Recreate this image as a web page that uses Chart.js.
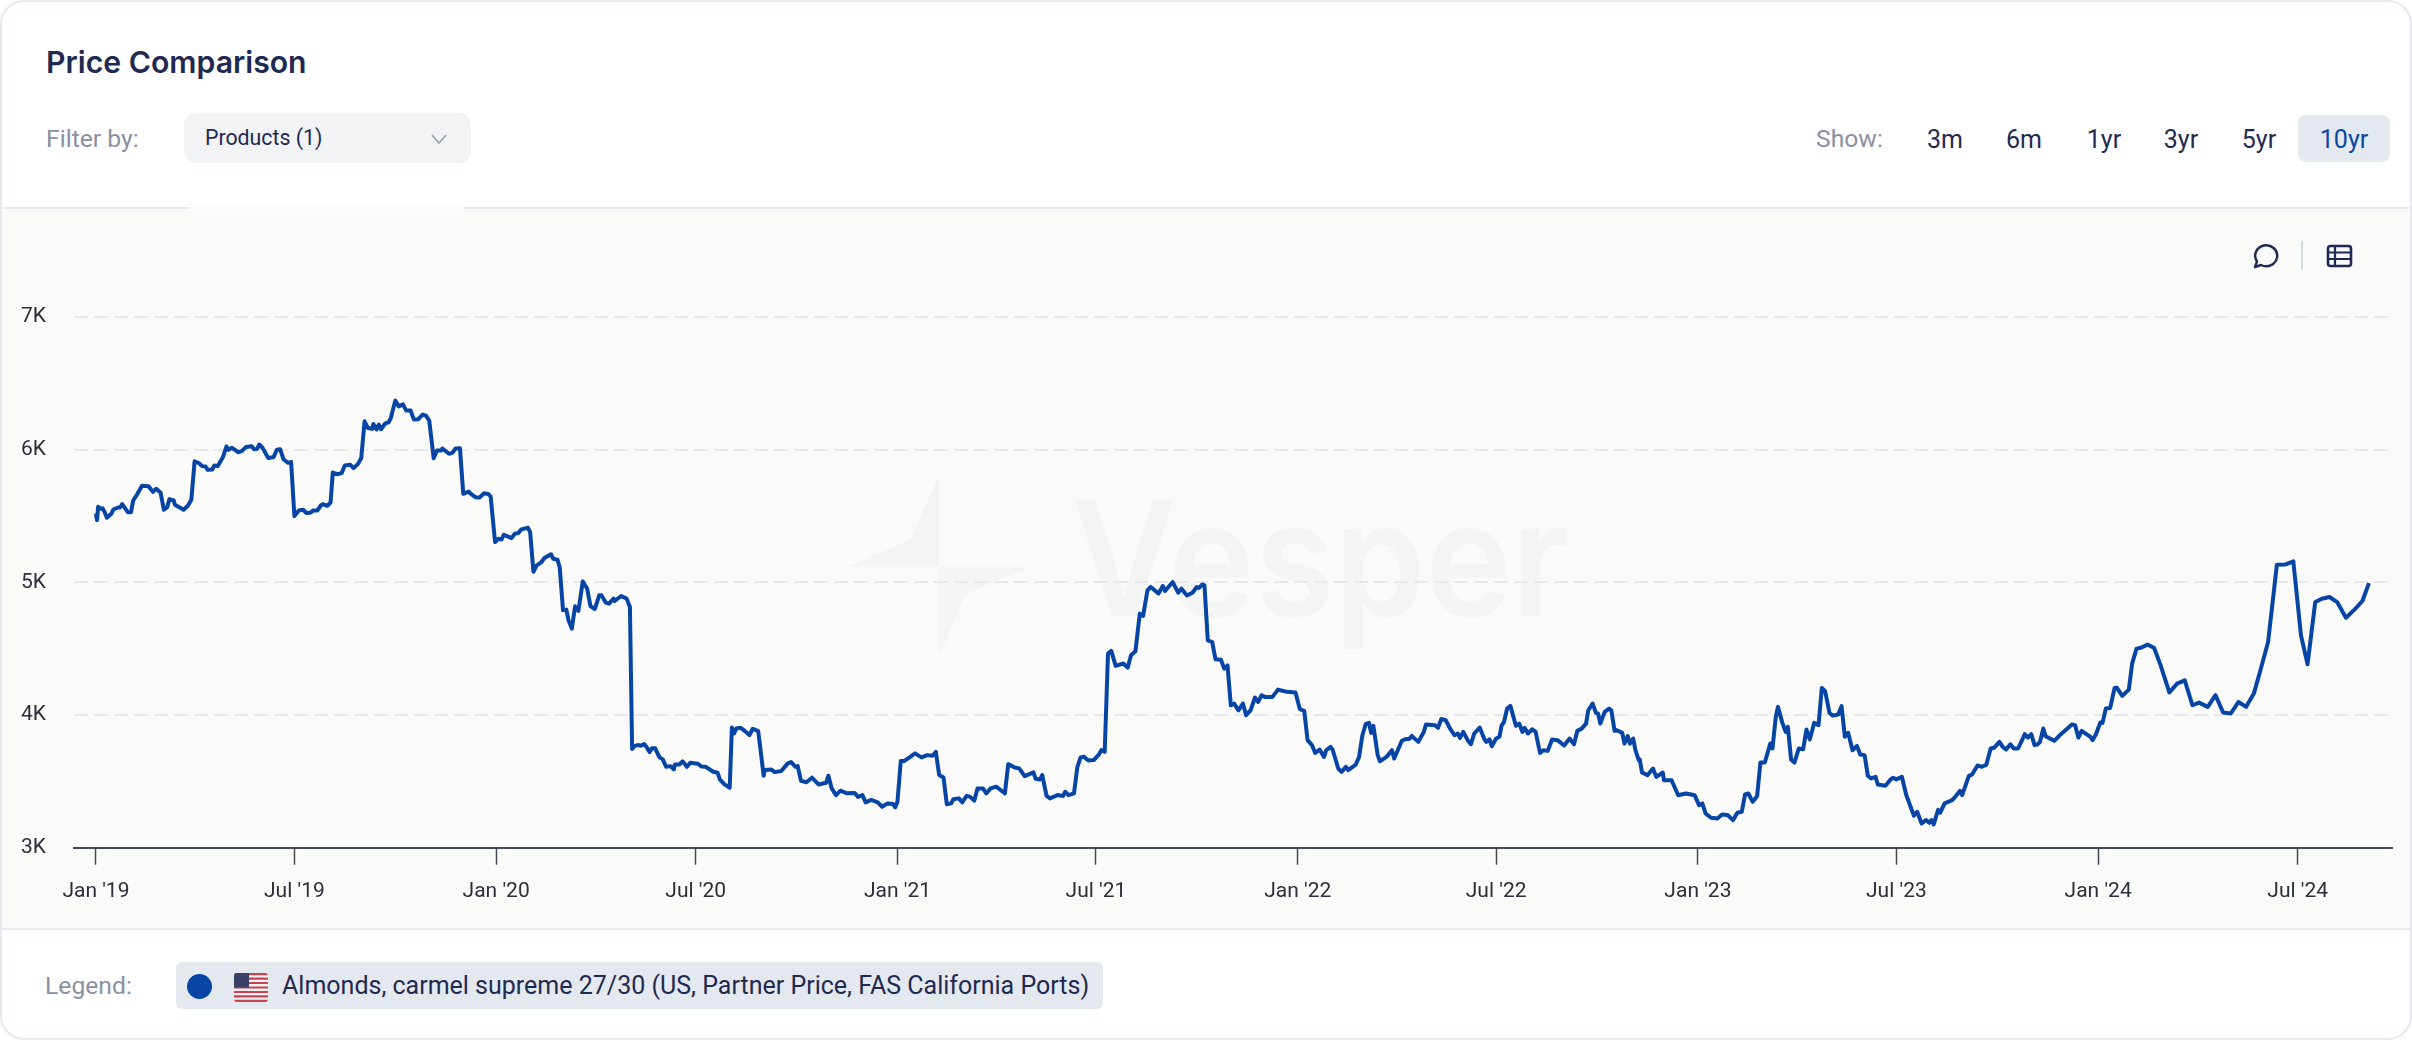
<!DOCTYPE html>
<html>
<head>
<meta charset="utf-8">
<title>Price Comparison</title>
<script src="https://cdn.jsdelivr.net/npm/chart.js@4"></script>
<style>
    html, body { margin: 0; padding: 0; background: #fff; }
    body { width: 2412px; height: 1040px; position: relative; overflow: hidden; font-family: Roboto, sans-serif; }
    .abs { position: absolute; white-space: nowrap; line-height: 1; }
    .card { position: absolute; left: 0; top: 0; width: 2408px; height: 1036px; border: 2px solid #e6e9ee; border-radius: 24px; overflow: hidden; }
    .panel { position: absolute; left: 0; top: 205px; width: 2408px; height: 719px; background: #fafaf8; border-top: 2px solid #e6e9ee; border-bottom: 2px solid #e6e9ee; }
    .title { left: 46px; top: 44px; font: 600 30.2px Inter, sans-serif; color: #1f2a52; }
    .muted { color: #8a90a3; font-size: 24.7px; }
    .select { position: absolute; left: 184px; top: 113px; width: 287px; height: 50px; border-radius: 12px; background: #f1f3f4; }
    .range { color: #1f2a52; font-size: 25px; transform: translateX(-50%); }
    .active-pill { position: absolute; left: 2298px; top: 115px; width: 92px; height: 47px; border-radius: 8px; background: #e4e9f0; }
    .legend-pill { position: absolute; left: 176px; top: 962px; width: 927px; height: 47px; border-radius: 6px; background: #e4e8ef; }
    .dot { position: absolute; left: 187px; top: 974px; width: 25px; height: 25px; border-radius: 50%; background: #0645a6; }
    .wm { position: absolute; left: 1071px; top: 478px; font: 600 160px/1 Inter, sans-serif; color: #f3f5f5; white-space: nowrap; transform: scaleX(0.91); transform-origin: left top; }
    canvas { position: absolute; left: 0; top: 0; }
</style>
</head>
<body>
<div class="card"><div class="panel"></div></div>
<div class="abs" style="left:190px;top:206px;width:274px;height:3px;background:#fcfcfb"></div>

<div class="abs title">Price Comparison</div>
<div class="abs muted" style="left:46px;top:127px">Filter by:</div>
<div class="select"></div>
<div class="abs" style="left:205px;top:127px;font-size:21.3px;color:#1f2a52">Products (1)</div>
<svg class="abs" style="left:431px;top:133px" width="16" height="12" viewBox="0 0 16 12"><path d="M1 2 L8 10 L15 2" fill="none" stroke="#9aa0ad" stroke-width="1.6"/></svg>

<div class="abs muted" style="left:1816px;top:127px">Show:</div>
<div class="active-pill"></div>
<div class="abs range" style="left:1945px;top:127px">3m</div>
<div class="abs range" style="left:2024px;top:127px">6m</div>
<div class="abs range" style="left:2104px;top:127px">1yr</div>
<div class="abs range" style="left:2181px;top:127px">3yr</div>
<div class="abs range" style="left:2259px;top:127px">5yr</div>
<div class="abs range" style="left:2344px;top:127px;color:#0b46a6">10yr</div>

<svg class="abs" style="left:2250px;top:240px" width="110" height="32" viewBox="0 0 110 32">
    <path d="M5 27 L7 21.5 A11 10.5 0 1 1 11 25 Z" fill="none" stroke="#1f2a52" stroke-width="2.4" stroke-linejoin="round"/>
    <line x1="52" y1="1" x2="52" y2="30" stroke="#d5dae3" stroke-width="2"/>
    <rect x="78" y="6" width="23" height="20" rx="2.5" fill="none" stroke="#1f2a52" stroke-width="2.6"/>
    <path d="M78 12.5 H101 M78 19 H101 M85 6 V26" stroke="#1f2a52" stroke-width="2.2"/>
</svg>

<svg class="abs" style="left:848px;top:476px" width="182" height="181" viewBox="0 0 182 181">
    <path d="M90.6 0 L63 63 L0 90.7 L90.6 90.7 Z M90.6 90.7 L182 90.7 L118 118 L90.6 181 Z" fill="#f3f5f5"/>
</svg>
<div class="wm">Vesper</div>

<div class="abs muted" style="left:45px;top:974px">Legend:</div>
<div class="legend-pill"></div>
<div class="dot"></div>
<svg class="abs" style="left:234px;top:973px" width="34" height="29" viewBox="0 0 34 29">
    <defs><clipPath id="flagClip"><rect width="34" height="29" rx="3"/></clipPath></defs>
    <g clip-path="url(#flagClip)">
        <rect width="34" height="29" fill="#f4f4f6"/>
        <path d="M0 1.1 H34 M0 5.6 H34 M0 10 H34 M0 14.5 H34 M0 19 H34 M0 23.4 H34 M0 27.9 H34" stroke="#c8434f" stroke-width="2.2"/>
        <rect width="15" height="14.5" fill="#3c3f66"/>
    </g>
</svg>
<div class="abs" style="left:282px;top:973px;font-size:25px;color:#1f2a52">Almonds, carmel supreme 27/30 (US, Partner Price, FAS California Ports)</div>

<canvas id="priceChart" width="2412" height="1040"></canvas>

<script>
// days counted from 1 Jan 2019
const priceDays = [
    0,1,2,4,6,8,10,14,16,20,22,24,27,29,32,34,37,42,48,52,55,59,62,65,67,71,72,80,84,87,
    90,94,97,100,102,106,108,111,115,116,119,121,124,130,133,137,142,144,147,149,152,157,162,165,168,171,175,178,181,185,
    189,192,196,198,202,205,207,211,214,216,220,224,227,232,235,239,242,245,248,252,253,256,258,260,264,267,269,273,276,280,
    283,287,290,294,298,301,304,308,311,315,316,322,325,328,332,335,340,341,346,350,354,358,360,364,367,370,372,379,382,385,
    388,394,396,399,402,406,409,415,417,421,423,426,429,431,434,437,440,444,448,451,455,459,461,465,468,472,473,479,484,487,
    489,491,494,497,500,502,505,507,510,514,517,520,524,527,528,532,535,539,542,549,552,556,563,567,569,573,578,580,582,584,
    588,592,596,599,604,609,610,616,619,625,631,634,638,640,643,648,653,659,666,668,671,675,679,685,692,695,699,702,707,713,
    717,722,727,729,731,734,737,742,747,753,758,763,766,769,773,776,780,782,787,790,794,797,801,804,809,812,816,821,825,829,
    832,838,842,847,855,857,861,863,867,870,877,882,884,887,892,895,898,901,905,910,915,917,920,923,926,930,937,941,944,948,
    952,955,959,962,969,973,975,982,987,990,995,1000,1004,1006,1009,1011,1014,1018,1021,1026,1029,1032,1035,1038,1042,1046,1049,1053,1057,1060,
    1063,1066,1073,1078,1083,1086,1094,1098,1102,1105,1109,1112,1116,1120,1122,1126,1128,1133,1136,1140,1142,1149,1152,1155,1158,1161,1163,1165,1169,1171,
    1177,1182,1184,1191,1194,1198,1200,1206,1211,1213,1221,1224,1227,1231,1235,1239,1242,1244,1247,1251,1254,1257,1262,1266,1268,1271,1273,1277,1280,1282,
    1284,1287,1290,1295,1298,1301,1303,1306,1310,1313,1317,1320,1324,1328,1333,1339,1344,1348,1351,1355,1359,1361,1365,1368,1370,1372,1376,1380,1382,1385,
    1387,1392,1394,1397,1399,1402,1404,1407,1408,1410,1415,1420,1423,1429,1430,1437,1443,1450,1458,1462,1465,1468,1473,1479,1483,1488,1493,1497,1501,1504,
    1507,1511,1515,1518,1522,1527,1529,1532,1534,1538,1541,1543,1546,1549,1553,1557,1560,1563,1567,1571,1574,1577,1581,1584,1589,1592,1595,1598,1602,1606,
    1609,1613,1616,1619,1623,1625,1632,1637,1639,1642,1647,1651,1658,1661,1665,1669,1672,1674,1676,1680,1682,1686,1693,1697,1700,1702,1708,1711,1716,1720,
    1724,1728,1731,1736,1739,1742,1746,1749,1753,1758,1759,1762,1765,1768,1771,1773,1776,1778,1786,1792,1798,1802,1805,1808,1811,1819,1821,1824,1828,1830,
    1833,1837,1841,1843,1848,1854,1857,1861,1865,1871,1877,1883,1891,1898,1905,1912,1918,1926,1933,1940,1947,1954,1961,1968,1974,1981,1989,1997,2004,2011,
    2017,2024,2030,2037,2044,2052,2060,2067,2073
];
const priceValues = [
    5520,5470,5570,5555,5560,5530,5488,5518,5550,5565,5565,5590,5555,5530,5530,5618,5656,5729,5726,5683,5706,5676,5548,5568,5628,5618,5585,5548,5580,5623,
    5914,5899,5877,5874,5849,5852,5882,5877,5932,5949,6025,6000,6015,5982,5990,6022,6027,6005,6007,6040,6015,5939,5944,6000,6005,5929,5902,5909,5500,5543,
    5548,5523,5528,5543,5543,5580,5590,5578,5603,5829,5816,5824,5882,5887,5862,5894,5939,6215,6165,6158,6195,6153,6190,6155,6200,6208,6241,6371,6328,6343,
    6296,6296,6228,6231,6266,6258,6220,5937,5995,5995,6010,5970,5977,6010,6012,5668,5686,5673,5643,5641,5673,5666,5648,5304,5329,5324,5360,5334,5367,5372,
    5400,5412,5380,5081,5129,5151,5184,5212,5179,5171,5111,4790,4795,4714,4652,4820,4785,5008,4953,4822,4800,4903,4903,4848,4840,4878,4860,4898,4878,4815,
    3744,3766,3774,3769,3781,3761,3721,3749,3749,3681,3666,3610,3615,3590,3628,3628,3651,3610,3641,3633,3613,3610,3573,3565,3515,3480,3452,3907,3862,3899,
    3904,3879,3849,3897,3879,3543,3585,3590,3570,3578,3636,3646,3610,3615,3505,3493,3528,3477,3490,3543,3447,3397,3430,3410,3412,3382,3397,3342,3360,3342,
    3309,3334,3329,3304,3347,3653,3653,3681,3711,3681,3698,3693,3723,3548,3530,3327,3334,3365,3372,3342,3390,3385,3355,3447,3447,3410,3447,3460,3435,3410,
    3630,3605,3598,3540,3568,3520,3515,3548,3390,3372,3397,3390,3422,3397,3410,3605,3681,3686,3658,3661,3706,3736,3723,4464,4484,4371,4389,4358,4451,4481,
    4765,4748,4941,4966,4916,4973,4936,5003,4923,4953,4901,4923,4966,4958,4985,4978,4564,4551,4421,4418,4350,4375,4074,4087,4036,4087,3999,4036,4132,4099,
    4149,4137,4137,4192,4182,4175,4170,4044,4031,3811,3773,3715,3740,3685,3735,3760,3735,3597,3572,3610,3585,3627,3685,3848,3931,3941,3866,3919,3698,3652,
    3685,3735,3673,3806,3818,3821,3843,3798,3873,3929,3924,3904,3971,3961,3898,3848,3861,3828,3873,3811,3780,3861,3906,3823,3798,3816,3765,3823,3836,3924,
    3944,4049,4069,3919,3936,3873,3903,3861,3893,3873,3715,3735,3730,3816,3811,3770,3823,3780,3881,3898,3936,4036,4087,4016,4011,3936,4024,4049,4036,3881,
    3886,3866,3785,3841,3785,3823,3735,3660,3665,3567,3547,3597,3534,3567,3509,3509,3396,3409,3396,3321,3334,3258,3226,3221,3251,3246,3208,3264,3271,3402,
    3409,3346,3389,3642,3642,3786,3748,3986,4062,3941,3873,3911,3665,3642,3748,3743,3891,3816,3941,3924,4205,4180,4016,3996,4004,4067,3836,3866,3735,3768,
    3703,3698,3542,3522,3535,3477,3467,3517,3527,3515,3535,3397,3241,3271,3183,3208,3188,3208,3176,3284,3264,3334,3359,3397,3429,3397,3540,3552,3620,3610,
    3625,3748,3753,3798,3760,3740,3780,3748,3748,3836,3856,3831,3856,3773,3780,3798,3899,3841,3806,3856,3899,3929,3924,3831,3881,3836,3811,3856,3944,3941,
    4049,4054,4205,4207,4145,4192,4388,4501,4508,4531,4508,4375,4170,4237,4262,4074,4094,4062,4150,4019,4012,4099,4062,4162,4338,4551,5133,5136,5159,4601,
    4383,4852,4877,4890,4852,4734,4797,4860,4995
];
const tickDays = [0, 181, 365, 547, 731, 912, 1096, 1277, 1461, 1642, 1826, 2008];
const tickLabels = ["Jan '19", "Jul '19", "Jan '20", "Jul '20", "Jan '21", "Jul '21", "Jan '22", "Jul '22", "Jan '23", "Jul '23", "Jan '24", "Jul '24"];
const yTicks = [3000, 4000, 5000, 6000, 7000];

document.addEventListener('DOMContentLoaded', function() {
    const ctx = document.getElementById('priceChart');
    new Chart(ctx, {
        type: 'line',
        data: {
            datasets: [{
                label: 'Almonds, carmel supreme 27/30 (US, Partner Price, FAS California Ports)',
                data: priceDays.map((d, i) => ({ x: d, y: priceValues[i] })),
                borderColor: '#0645a6',
                borderWidth: 4,
                borderJoinStyle: 'round',
                pointRadius: 0,
                tension: 0
            }]
        },
        options: {
            responsive: false,
            animation: false,
            layout: { padding: { left: 0, right: 20, top: 317.2, bottom: 140 } },
            plugins: { legend: { display: false }, tooltip: { enabled: false } },
            scales: {
                x: {
                    type: 'linear',
                    min: -20,
                    max: 2094,
                    afterBuildTicks: axis => { axis.ticks = tickDays.map(v => ({ value: v })); },
                    afterFit: axis => { axis.height = 52.3; },
                    ticks: {
                        autoSkip: false,
                        maxRotation: 0,
                        color: '#2b2f3a',
                        font: { family: 'Roboto', size: 21 },
                        padding: 14,
                        callback: value => tickLabels[tickDays.indexOf(value)]
                    },
                    grid: { drawOnChartArea: false, tickLength: 17, tickColor: '#444854', tickWidth: 1.5 },
                    border: { color: '#444854', width: 2 }
                },
                y: {
                    min: 3000,
                    max: 7000,
                    afterBuildTicks: axis => { axis.ticks = yTicks.map(v => ({ value: v })); },
                    afterFit: axis => { axis.width = 74; },
                    ticks: {
                        color: '#2b2f3a',
                        font: { family: 'Roboto', size: 21 },
                        padding: 28,
                        callback: value => (value / 1000) + 'K'
                    },
                    grid: { color: '#e6e8ec', lineWidth: 2, drawTicks: false },
                    border: { display: false, dash: [14, 6] }
                }
            }
        }
    });
});
</script>
</body>
</html>
